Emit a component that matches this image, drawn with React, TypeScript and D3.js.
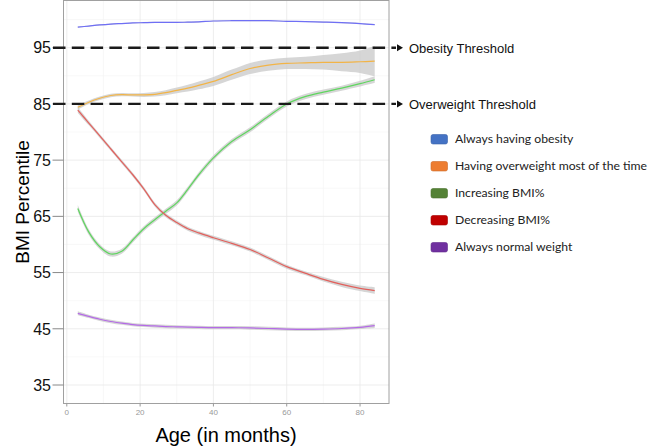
import React, { useEffect } from "react";
import * as d3 from "d3";

const ages = [3, 6, 9, 12, 15, 18, 21, 24, 27, 30, 33, 36, 40, 45, 50, 55, 60, 65, 70, 75, 80, 84];

const obesity = [98.65, 98.85, 99.05, 99.2, 99.3, 99.4, 99.45, 99.5, 99.5, 99.5, 99.55, 99.6, 99.75, 99.8, 99.8, 99.8, 99.7, 99.65, 99.55, 99.45, 99.3, 99.1];
const obesitySe = [0.1, 0.1, 0.1, 0.1, 0.1, 0.1, 0.1, 0.1, 0.1, 0.1, 0.1, 0.1, 0.1, 0.1, 0.1, 0.1, 0.1, 0.1, 0.1, 0.1, 0.1, 0.1];

const overweight = [84.4, 85.3, 86.0, 86.5, 86.65, 86.6, 86.6, 86.7, 87.0, 87.4, 87.8, 88.3, 89.0, 90.2, 91.3, 91.9, 92.2, 92.3, 92.4, 92.4, 92.5, 92.6];
const overweightSe = [0.4, 0.3, 0.3, 0.3, 0.3, 0.3, 0.35, 0.4, 0.45, 0.5, 0.6, 0.7, 0.8, 0.9, 1.0, 1.0, 1.0, 1.1, 1.3, 1.6, 2.0, 2.7];

const increasing = [66.4, 62.2, 59.6, 58.3, 58.8, 60.8, 62.8, 64.4, 65.9, 67.4, 69.8, 72.4, 75.4, 78.3, 80.4, 82.8, 85.0, 86.3, 87.1, 87.8, 88.6, 89.3];
const increasingSe = [0.6, 0.5, 0.45, 0.45, 0.45, 0.45, 0.45, 0.45, 0.45, 0.45, 0.45, 0.45, 0.45, 0.45, 0.45, 0.45, 0.45, 0.45, 0.45, 0.45, 0.5, 0.6];

const decreasing = [83.9, 81.6, 79.3, 77.0, 74.7, 72.4, 69.9, 67.1, 65.2, 63.9, 62.8, 62.05, 61.2, 60.2, 59.1, 57.6, 56.05, 54.9, 53.8, 52.9, 52.2, 51.8];
const decreasingSe = [0.5, 0.4, 0.35, 0.35, 0.35, 0.35, 0.35, 0.35, 0.35, 0.35, 0.35, 0.35, 0.35, 0.35, 0.35, 0.35, 0.35, 0.35, 0.4, 0.45, 0.5, 0.6];

const normal = [47.75, 47.2, 46.7, 46.3, 46.0, 45.75, 45.6, 45.5, 45.4, 45.35, 45.3, 45.25, 45.2, 45.2, 45.15, 45.05, 44.95, 44.9, 44.95, 45.05, 45.25, 45.55];
const normalSe = [0.35, 0.3, 0.3, 0.3, 0.3, 0.3, 0.3, 0.3, 0.3, 0.3, 0.3, 0.3, 0.3, 0.3, 0.3, 0.3, 0.3, 0.3, 0.3, 0.3, 0.3, 0.4];

const seriesNames = ["Always having obesity", "Having overweight most of the time", "Increasing BMI%", "Decreasing BMI%", "Always normal weight"];
const lineColors = ["#6f6ff5", "#f2b447", "#5fd65f", "#e2605c", "#b46ae6"];
const legendColors = ["#4472c4", "#ed7d31", "#548235", "#c00000", "#7030a0"];

const yTicks = [35, 45, 55, 65, 75, 85, 95];
const yMinor = [40, 50, 60, 70, 80, 90, 100];
const xTicks = [0, 20, 40, 60, 80];
const xMinor = [10, 30, 50, 70];

const thresholds = [95, 85];
const thresholdLabels = ["Obesity Threshold", "Overweight Threshold"];

export default function App() {
  useEffect(() => {
    document.body.style.margin = "0";
  }, []);

  const W = 651, H = 447;
  const left = 63.5, right = 389, top = 0.5, bottom = 403.5;
  const x = d3.scaleLinear().domain([-0.9, 87.9]).range([left, right]);
  const y = d3.scaleLinear().domain([35, 95]).range([385, 47.7]);

  const all = [
    { v: obesity, se: obesitySe },
    { v: overweight, se: overweightSe },
    { v: increasing, se: increasingSe },
    { v: decreasing, se: decreasingSe },
    { v: normal, se: normalSe },
  ];

  const curve = d3.curveCatmullRom.alpha(0.5);
  const line = d3.line<number>().x((_, i) => x(ages[i])).y((d) => y(d)).curve(curve);

  const bandPath = (vals: number[], se: number[]) =>
    d3
      .area<number>()
      .x((_, i) => x(ages[i]))
      .y0((d, i) => y(d - se[i]))
      .y1((d, i) => y(d + se[i]))
      .curve(curve)(vals) || "";

  const font = "'Liberation Sans', Arial, sans-serif";

  return (
    <svg width={W} height={H} style={{ display: "block" }} xmlns="http://www.w3.org/2000/svg">
      <rect x={0} y={0} width={W} height={H} fill="#ffffff" />
      {/* grid */}
      {yMinor.map((t) => (
        <line key={"ym" + t} x1={left} x2={right} y1={y(t)} y2={y(t)} stroke="#f3f3f3" strokeWidth={0.6} />
      ))}
      {xMinor.map((t) => (
        <line key={"xm" + t} x1={x(t)} x2={x(t)} y1={top} y2={bottom} stroke="#f3f3f3" strokeWidth={0.6} />
      ))}
      {yTicks.map((t) => (
        <line key={"yg" + t} x1={left} x2={right} y1={y(t)} y2={y(t)} stroke="#e8e8e8" strokeWidth={0.8} />
      ))}
      {xTicks.map((t) => (
        <line key={"xg" + t} x1={x(t)} x2={x(t)} y1={top} y2={bottom} stroke="#e8e8e8" strokeWidth={0.8} />
      ))}

      {/* bands */}
      {all.map((s, i) => (
        <path key={"b" + i} d={bandPath(s.v, s.se)} fill="#c8c8c8" fillOpacity={0.75} />
      ))}
      {/* lines */}
      {all.map((s, i) => (
        <path key={"l" + i} d={line(s.v) || ""} fill="none" stroke={lineColors[i]} strokeWidth={1.2} />
      ))}

      {/* panel border */}
      <rect x={left} y={top} width={right - left} height={bottom - top} fill="none" stroke="#a0a0a0" strokeWidth={1} />

      {/* y axis ticks */}
      {yTicks.map((t) => (
        <g key={"yt" + t}>
          <line x1={52.5} x2={left} y1={y(t)} y2={y(t)} stroke="#888" strokeWidth={1} />
          <text x={51} y={y(t)} dy="0.36em" textAnchor="end" fontFamily={font} fontSize={16} fill="#111">
            {t}
          </text>
        </g>
      ))}
      {/* x axis ticks */}
      {xTicks.map((t) => (
        <g key={"xt" + t}>
          <line x1={x(t)} x2={x(t)} y1={bottom} y2={bottom + 3} stroke="#999" strokeWidth={1} />
          <text x={x(t)} y={412} dy="0.35em" textAnchor="middle" fontFamily={font} fontSize={8} fill="#999">
            {t}
          </text>
        </g>
      ))}

      {/* threshold dashed lines with arrows */}
      {thresholds.map((t, i) => (
        <g key={"th" + t}>
          <line x1={53} x2={396} y1={y(t)} y2={y(t)} stroke="#1a1a1a" strokeWidth={2.4} strokeDasharray="12.5,6.3" />
          <path d={`M397,${y(t) - 3.5} L403,${y(t)} L397,${y(t) + 3.5} Z`} fill="#111" />
          <text x={409} y={y(t) + 1} dy="0.35em" fontFamily={font} fontSize={13} fill="#111">
            {thresholdLabels[i]}
          </text>
        </g>
      ))}

      {/* axis titles */}
      <text x={226} y={435} dy="0.35em" textAnchor="middle" fontFamily={font} fontSize={20} fill="#000">
        Age (in months)
      </text>
      <text
        transform={`translate(22,202) rotate(-90)`}
        textAnchor="middle"
        dy="0.35em"
        fontFamily={font}
        fontSize={19}
        fill="#000"
      >
        BMI Percentile
      </text>

      {/* legend */}
      {seriesNames.map((n, i) => {
        const cy = 139 + i * 27;
        return (
          <g key={"lg" + i}>
            <rect x={431} y={cy - 4.5} width={16.5} height={9.5} rx={2} fill={legendColors[i]} stroke={d3.color(legendColors[i])!.darker(0.4).toString()} strokeWidth={0.6} />
            <text x={455} y={cy} dy="0.35em" fontFamily="Lato, 'Noto Sans', sans-serif" fontSize={12.2} fill="#222">
              {n}
            </text>
          </g>
        );
      })}
    </svg>
  );
}
